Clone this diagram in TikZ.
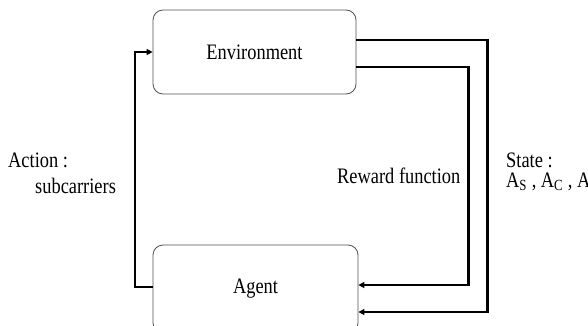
\documentclass[tikz,border=0pt]{standalone}
\usepackage{fontspec}
\setmainfont{Liberation Serif}
\usepackage{tikz}
\usetikzlibrary{arrows.meta,positioning}
\definecolor{edgec}{HTML}{505050}
\definecolor{linec}{HTML}{000000}
\newcommand{\tallt}[1]{\scalebox{1}[1.2]{#1}}
\tikzset{
  blk/.style={draw=edgec,line width=0.8pt,rounded corners=10pt,fill=white,minimum width=203pt,minimum height=84pt,inner sep=0pt},
  conn/.style={-{Triangle[length=6pt,width=6pt]},line width=2.2pt,linec},
  txt/.style={anchor=base west,inner sep=0pt,font=\fontsize{18.4}{22}\selectfont}
}
\begin{document}
\begin{tikzpicture}[x=1pt,y=1pt]
\useasboundingbox (0,0) rectangle (588,325);
\clip (0,0) rectangle (588,325);
\node[blk,font=\fontsize{18.4}{22}\selectfont] (env) at (254.5,273) {\tallt{Environment}};
\node[blk,minimum width=205pt,minimum height=88pt,font=\fontsize{18.4}{22}\selectfont] (agent) at (255.5,36) {\tallt{Agent}};
\draw[conn] ([yshift=12pt]env.east) -| ([xshift=129pt,yshift=-23pt]agent.east) -- ([yshift=-23pt]agent.east);
\draw[conn] ([yshift=-15pt]env.east) -| ([xshift=110pt,yshift=4pt]agent.east) -- ([yshift=4pt]agent.east);
\draw[conn] ([yshift=2pt]agent.west) -| ([xshift=-18pt]env.west) -- (env.west);
\node[txt] (act) at (8,158) {\tallt{Action :}};
\node[txt] (sub) at (35,132) {\tallt{subcarriers}};
\node[txt] (rew) at (337,142) {\tallt{Reward function}};
\node[txt] (st) at (506,158) {\tallt{State :}};
\node[txt] (sv) at (506,138) {\tallt{A\textsubscript{S} , A\textsubscript{C} , A\textsubscript{I}}};
\end{tikzpicture}
\end{document}
